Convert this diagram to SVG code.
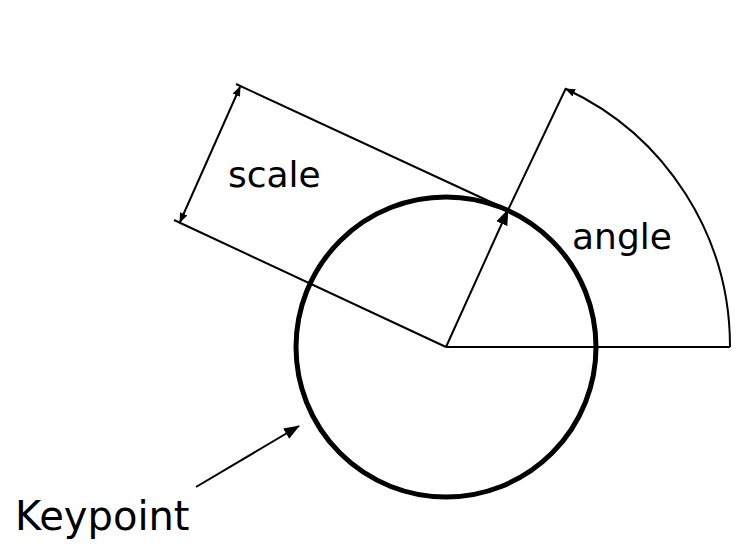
<svg xmlns="http://www.w3.org/2000/svg" width="750" height="559" viewBox="0 0 750 559">
<style>
.l{stroke:#000;stroke-width:2;fill:none}
.t{font-family:"DejaVu Sans",sans-serif;fill:#000}
</style>
<defs>
<marker id="a" markerWidth="10" markerHeight="10" refX="9" refY="5" orient="auto-start-reverse" markerUnits="userSpaceOnUse"><path d="M0,1 L10,5 L0,9 Z" fill="#000"/></marker>
<marker id="b" markerWidth="16" markerHeight="14" refX="15" refY="7" orient="auto" markerUnits="userSpaceOnUse"><path d="M0,1 L16,7 L0,13 Z" fill="#000"/></marker>
</defs>
<rect width="750" height="559" fill="#fff"/>
<g id="keypoint-circle"><circle cx="446" cy="347" r="150" fill="none" stroke="#000" stroke-width="5"/></g>
<g id="connectors">
<line class="l" x1="446" y1="347" x2="508" y2="210" stroke-width="3" marker-end="url(#b)"/>
<line class="l" x1="508" y1="210" x2="566" y2="88"/>
<line class="l" x1="446" y1="347" x2="730" y2="347"/>
<path class="l" d="M730,347 A284,284 0 0 0 566,89" marker-end="url(#a)"/>
<line class="l" x1="446" y1="347" x2="174" y2="220"/>
<line class="l" x1="508" y1="210" x2="236" y2="84"/>
<line class="l" x1="180" y1="222" x2="240" y2="87" marker-start="url(#a)" marker-end="url(#a)"/>
<line class="l" x1="196" y1="487" x2="299" y2="426" stroke-width="3" marker-end="url(#b)"/>
</g>
<g id="labels">
<text class="t" x="228" y="187" font-size="36">scale</text>
<text class="t" x="572" y="249" font-size="36">angle</text>
<text class="t" x="15" y="530" font-size="40">Keypoint</text>
</g>
</svg>
